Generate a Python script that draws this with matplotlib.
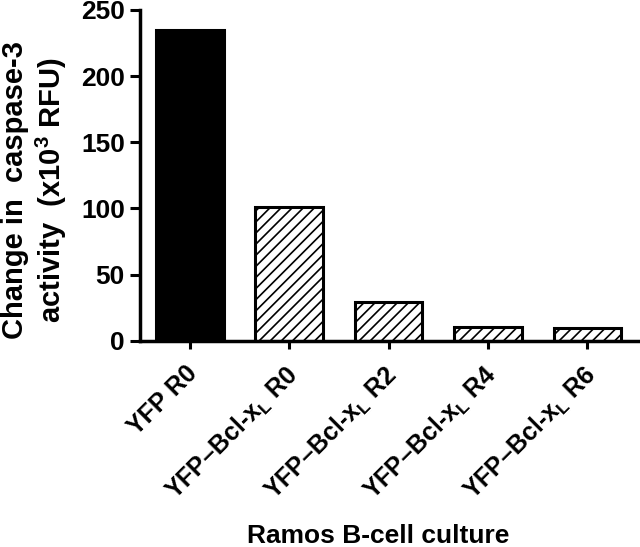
import matplotlib
matplotlib.use("Agg")
import matplotlib.pyplot as plt
import matplotlib.transforms as mtransforms
import numpy as np

plt.rcParams['font.family'] = ['Liberation Sans', 'DejaVu Sans']
plt.rcParams['font.weight'] = 'bold'
plt.rcParams['mathtext.fontset'] = 'custom'
plt.rcParams['mathtext.rm'] = 'Liberation Sans:bold'
plt.rcParams['mathtext.bf'] = 'Liberation Sans:bold'
plt.rcParams['hatch.linewidth'] = 1.2

# data
categories = ['YFP R0',
              'YFP\u2013Bcl-x$_\\mathregular{L}$ R0',
              'YFP\u2013Bcl-x$_\\mathregular{L}$ R2',
              'YFP\u2013Bcl-x$_\\mathregular{L}$ R4',
              'YFP\u2013Bcl-x$_\\mathregular{L}$ R6']
values = [235, 101, 29.5, 10.5, 9.8]
colors = ['black', 'white', 'white', 'white', 'white']
hatches = ['', '///', '///', '///', '///']

fig = plt.figure(figsize=(6.4, 5.47), dpi=100)
ax = fig.add_axes([0.219, 0.377, 0.781, 0.605])

x = np.arange(len(categories))
for i in range(len(categories)):
    ax.bar(x[i], values[i], width=0.68, color=colors[i], edgecolor='black',
           linewidth=2.2, hatch=hatches[i], zorder=2)

ax.set_xlim(-0.5, 4.53)
ax.set_ylim(0, 250)
ax.set_yticks([0, 50, 100, 150, 200, 250])
ax.set_xticks(x)
ax.set_xticklabels(categories, rotation=45, ha='right', rotation_mode='anchor',
                   fontsize=18, fontweight='bold')
ax.tick_params(axis='y', labelsize=19, width=2.2, length=7, direction='out', pad=4)
ax.tick_params(axis='x', width=2.2, length=6, direction='out', pad=9)

# nudge the rotated labels a little to the left
shift = mtransforms.ScaledTranslation(-0.05, 0, fig.dpi_scale_trans)
for lab in ax.get_xticklabels():
    lab.set_transform(lab.get_transform() + shift)

for s in ['top', 'right']:
    ax.spines[s].set_visible(False)
for s in ['left', 'bottom']:
    ax.spines[s].set_linewidth(2.5)

ax.set_ylabel('Change in  caspase-3\nactivity  (x10$^3$ RFU)', fontsize=21,
              fontweight='bold', linespacing=1.15)
ax.yaxis.set_label_coords(-0.143, 0.455)
ax.set_xlabel('Ramos B-cell culture', fontsize=19, fontweight='bold')
ax.xaxis.set_label_coords(0.476, -0.553)

fig.savefig('out.png', dpi=100)
